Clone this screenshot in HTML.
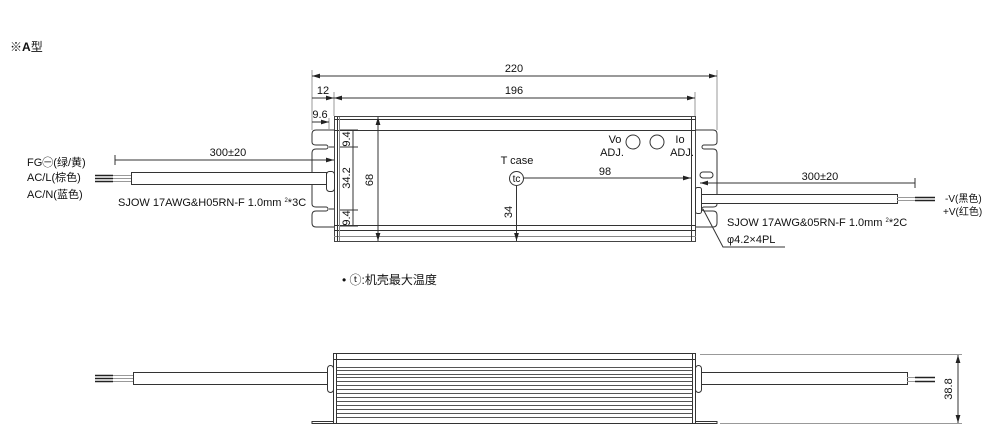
<!DOCTYPE html>
<html><head><meta charset="utf-8"><style>
html,body{margin:0;padding:0;background:#fff;width:993px;height:443px;overflow:hidden}
svg{display:block}
text{font-family:"Liberation Sans","Noto Sans CJK SC",sans-serif;font-size:11px;fill:#111}
</style></head><body>
<svg width="993" height="443" viewBox="0 0 993 443">
<defs><marker id="a" viewBox="0 0 10 6" refX="10" refY="3" markerWidth="8" markerHeight="5" orient="auto-start-reverse"><path d="M0,0L10,3L0,6z" fill="#222"/></marker></defs>
<g stroke="#333" stroke-width="1" fill="none">
<text x="10" y="51" stroke="none" style="font-size:12px">※<tspan font-weight="bold">A</tspan>型</text>
<!-- top body -->
<rect x="334.5" y="116.5" width="361" height="125" stroke="#444"/>
<line x1="334" y1="119.5" x2="696" y2="119.5"/>
<line x1="334" y1="130.5" x2="696" y2="130.5"/>
<line x1="334" y1="225.5" x2="696" y2="225.5"/>
<line x1="334" y1="230.5" x2="696" y2="230.5"/>
<line x1="334" y1="236.5" x2="696" y2="236.5" stroke="#888"/>
<line x1="337.5" y1="117" x2="337.5" y2="241"/>
<line x1="339.5" y1="117" x2="339.5" y2="241" stroke="#888"/>
<line x1="691.5" y1="117" x2="691.5" y2="241"/>
<!-- left flange -->
<path d="M334,130 H316 Q312,130 312,134 V142 Q312,145 316,145 H326 M326,149 H316 Q312,149 312,153 V204 Q312,207 316,207 H326 M326,211 H316 Q312,211 312,215 V223 Q312,227 316,227 H334"/>
<path d="M326,145 a2,2 0 0 1 0,4 M326,207 a2,2 0 0 1 0,4"/>
<line x1="334" y1="147" x2="329" y2="147" /><line x1="334" y1="209" x2="329" y2="209"/>
<!-- right flange -->
<path d="M696,130 H713 Q717,130 717,134 V142 Q717,145 713,145 H704 M704,149 H713 Q717,149 717,153 V204 Q717,207 713,207 H704 M704,211 H713 Q717,211 717,215 V223 Q717,227 713,227 H696"/>
<path d="M704,145 a2,2 0 0 0 0,4 M704,207 a2,2 0 0 0 0,4"/>
<rect x="700" y="172" width="13" height="6" rx="3"/>
<!-- dims top -->
<line x1="312" y1="70" x2="312" y2="130" stroke="#999"/>
<line x1="717" y1="70" x2="717" y2="130" stroke="#999"/>
<line x1="312" y1="76" x2="717" y2="76" marker-start="url(#a)" marker-end="url(#a)"/>
<text x="514" y="72" stroke="none" text-anchor="middle">220</text>
<line x1="334" y1="92" x2="334" y2="116" stroke="#999"/>
<line x1="695" y1="92" x2="695" y2="116" stroke="#999"/>
<line x1="334" y1="98" x2="695" y2="98" marker-start="url(#a)" marker-end="url(#a)"/>
<text x="514" y="94" stroke="none" text-anchor="middle">196</text>
<line x1="312" y1="98" x2="334" y2="98" marker-end="url(#a)"/>
<text x="323" y="94" stroke="none" text-anchor="middle">12</text>
<line x1="329" y1="118" x2="329" y2="130" stroke="#999"/>
<line x1="312" y1="122" x2="329" y2="122" marker-end="url(#a)"/>
<text x="320" y="118" stroke="none" text-anchor="middle">9.6</text>
<line x1="378" y1="117" x2="378" y2="241" marker-start="url(#a)" marker-end="url(#a)"/>
<text transform="translate(373,180) rotate(-90)" stroke="none" text-anchor="middle">68</text>
<line x1="353" y1="130" x2="353" y2="226"/>
<line x1="340" y1="130" x2="358" y2="130"/><line x1="340" y1="147" x2="358" y2="147"/>
<line x1="340" y1="210" x2="358" y2="210"/><line x1="340" y1="226" x2="358" y2="226"/>
<text transform="translate(350,139) rotate(-90)" stroke="none" text-anchor="middle">9.4</text>
<text transform="translate(350,178) rotate(-90)" stroke="none" text-anchor="middle">34.2</text>
<text transform="translate(350,218) rotate(-90)" stroke="none" text-anchor="middle">9.4</text>
<circle cx="516.5" cy="178.5" r="7"/>
<text x="516.5" y="182" stroke="none" text-anchor="middle" style="font-size:10px">tc</text>
<text x="517" y="164" stroke="none" text-anchor="middle">T case</text>
<line x1="524" y1="178" x2="691" y2="178" marker-end="url(#a)"/>
<text x="605" y="175" stroke="none" text-anchor="middle">98</text>
<line x1="516.5" y1="186" x2="516.5" y2="241" marker-end="url(#a)"/>
<text transform="translate(512,212) rotate(-90)" stroke="none" text-anchor="middle">34</text>
<circle cx="633" cy="142" r="7"/><circle cx="657" cy="142" r="7"/>
<text x="615" y="143" stroke="none" text-anchor="middle">Vo</text>
<text x="612" y="156" stroke="none" text-anchor="middle">ADJ.</text>
<text x="680" y="143" stroke="none" text-anchor="middle">Io</text>
<text x="682" y="156" stroke="none" text-anchor="middle">ADJ.</text>
<!-- left cable -->
<rect x="131.5" y="172.5" width="195" height="12" fill="#fff"/>
<rect x="326.5" y="171.5" width="8" height="20" rx="3" fill="#fff"/>
<line x1="115" y1="155" x2="115" y2="165"/>
<line x1="115" y1="160" x2="334" y2="160" marker-end="url(#a)"/>
<text x="228" y="156" stroke="none" text-anchor="middle">300±20</text>
<g stroke-width="1.6" stroke="#222"><line x1="95" y1="175.5" x2="113" y2="175.5"/><line x1="95" y1="178.5" x2="113" y2="178.5"/><line x1="95" y1="181.5" x2="113" y2="181.5"/></g>
<g stroke="#999"><line x1="113" y1="175.5" x2="131" y2="175.5"/><line x1="113" y1="178.5" x2="131" y2="178.5"/><line x1="113" y1="181.5" x2="131" y2="181.5"/></g>
<text x="27" y="166" stroke="none">FG㊀(绿/黄)</text>
<text x="27" y="181" stroke="none">AC/L(棕色)</text>
<text x="27" y="198" stroke="none">AC/N(蓝色)</text>
<text x="118" y="206" stroke="none">SJOW 17AWG&amp;H05RN-F 1.0mm <tspan style="font-size:6px" dy="-4">2</tspan><tspan dy="4">*3C</tspan></text>
<!-- right cable -->
<rect x="700.5" y="194.5" width="197" height="9" fill="#fff"/>
<rect x="695.5" y="187.5" width="6" height="26" rx="2" fill="#fff"/>
<line x1="915" y1="178" x2="915" y2="188"/>
<line x1="700" y1="183" x2="915" y2="183" marker-start="url(#a)"/>
<text x="820" y="180" stroke="none" text-anchor="middle">300±20</text>
<g stroke="#999"><line x1="897" y1="197.5" x2="915" y2="197.5"/><line x1="897" y1="200.5" x2="915" y2="200.5"/></g>
<g stroke-width="1.6" stroke="#222"><line x1="915" y1="197.5" x2="935" y2="197.5"/><line x1="915" y1="200.5" x2="935" y2="200.5"/></g>
<text x="945" y="202" stroke="none" style="font-size:10px">-V(黑色)</text>
<text x="943" y="215" stroke="none" style="font-size:10px">+V(红色)</text>
<text x="727" y="226" stroke="none">SJOW 17AWG&amp;05RN-F 1.0mm <tspan style="font-size:6px" dy="-4">2</tspan><tspan dy="4">*2C</tspan></text>
<path d="M703,209 L723,247 H785"/>
<text x="727" y="243" stroke="none">φ4.2×4PL</text>
<text x="342" y="284" stroke="none" style="font-size:12px">• ⓣ:机壳最大温度</text>
<!-- side view -->
<rect x="333.5" y="353.5" width="362" height="70"/>
<line x1="333" y1="359.5" x2="696" y2="359.5"/>
<line x1="336.5" y1="354" x2="336.5" y2="424"/><line x1="692.5" y1="354" x2="692.5" y2="424"/>
<g stroke="#555">
<line x1="337" y1="367.5" x2="692" y2="367.5"/><line x1="337" y1="370.5" x2="692" y2="370.5"/>
<line x1="337" y1="374.5" x2="692" y2="374.5"/><line x1="337" y1="377.5" x2="692" y2="377.5"/>
<line x1="337" y1="381.5" x2="692" y2="381.5"/><line x1="337" y1="385.5" x2="692" y2="385.5"/>
<line x1="337" y1="389.5" x2="692" y2="389.5"/><line x1="337" y1="393.5" x2="692" y2="393.5"/>
<line x1="337" y1="397.5" x2="692" y2="397.5"/><line x1="337" y1="401.5" x2="692" y2="401.5"/>
<line x1="337" y1="405.5" x2="692" y2="405.5"/><line x1="337" y1="409.5" x2="692" y2="409.5"/>
<line x1="337" y1="413.5" x2="692" y2="413.5"/><line x1="337" y1="417.5" x2="692" y2="417.5"/>
</g>
<path d="M312,424 V421.5 H333 M696,421.5 H717 V424"/>
<line x1="312" y1="423.5" x2="333" y2="423.5"/><line x1="696" y1="423.5" x2="717" y2="423.5"/>
<rect x="133.5" y="372.5" width="194" height="12" fill="#fff"/>
<rect x="327.5" y="365.5" width="6" height="27" rx="3" fill="#fff"/>
<rect x="701.5" y="372.5" width="206" height="12" fill="#fff"/>
<rect x="695.5" y="365.5" width="6" height="27" rx="3" fill="#fff"/>
<g stroke-width="1.6" stroke="#222"><line x1="95" y1="375.5" x2="113" y2="375.5"/><line x1="95" y1="378.5" x2="113" y2="378.5"/><line x1="95" y1="381.5" x2="113" y2="381.5"/>
<line x1="915" y1="377.5" x2="935" y2="377.5"/><line x1="915" y1="381.5" x2="935" y2="381.5"/></g>
<g stroke="#999"><line x1="113" y1="375.5" x2="133" y2="375.5"/><line x1="113" y1="378.5" x2="133" y2="378.5"/><line x1="113" y1="381.5" x2="133" y2="381.5"/>
<line x1="907" y1="377.5" x2="915" y2="377.5"/><line x1="907" y1="381.5" x2="915" y2="381.5"/></g>
<line x1="700" y1="354.5" x2="962" y2="354.5" stroke="#999"/>
<line x1="720" y1="423.5" x2="962" y2="423.5" stroke="#999"/>
<line x1="958" y1="355" x2="958" y2="423" marker-start="url(#a)" marker-end="url(#a)"/>
<text transform="translate(952,389) rotate(-90)" stroke="none" text-anchor="middle">38.8</text>
</g>
</svg>
</body></html>
